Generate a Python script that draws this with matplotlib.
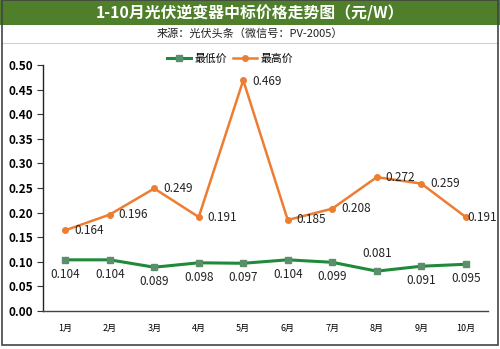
import matplotlib
matplotlib.use("Agg")
import matplotlib.pyplot as plt
from matplotlib.patches import Rectangle
from matplotlib.lines import Line2D

plt.rcParams['font.family'] = ['Noto Sans CJK SC', 'DejaVu Sans']

months = ['1月', '2月', '3月', '4月', '5月', '6月', '7月', '8月', '9月', '10月']
low = [0.104, 0.104, 0.089, 0.098, 0.097, 0.104, 0.099, 0.081, 0.091, 0.095]
high = [0.164, 0.196, 0.249, 0.191, 0.469, 0.185, 0.208, 0.272, 0.259, 0.191]
yticks = [0.00, 0.05, 0.10, 0.15, 0.20, 0.25, 0.30, 0.35, 0.40, 0.45, 0.50]

title = '1-10月光伏逆变器中标价格走势图（元/W）'
subtitle = '来源：光伏头条（微信号：PV-2005）'

GREEN_BAR = '#4f7f2b'
GREEN = '#1f8a3a'
GREEN_MK = '#5b8f6c'
ORANGE = '#ed7d31'

fig = plt.figure(figsize=(5.0, 3.49), dpi=100)
fig.patch.set_facecolor('white')

# title bar
fig.patches.append(Rectangle((0, 1 - 25/349), 1, 25/349, transform=fig.transFigure,
                             facecolor=GREEN_BAR, edgecolor='none', zorder=0))
fig.text(0.5, 1 - 13/349, title, ha='center', va='center', color='white',
         fontsize=11.4, fontweight='bold')
fig.text(0.5, 1 - 34/349, subtitle, ha='center', va='center', color='#222222', fontsize=8)
fig.lines.append(Line2D([0.004, 0.996], [1 - 42.5/349, 1 - 42.5/349], transform=fig.transFigure,
                        color='#d0d0d0', lw=0.8))
# outer border
fig.patches.append(Rectangle((0.003, 4/349), 0.993, 1 - 4/349 - 0.001, transform=fig.transFigure,
                             facecolor='none', edgecolor='#444444', lw=1.2, zorder=5))

ax = fig.add_axes([43/500, 38/349, 445/500, 246/349])
x = list(range(len(months)))
ax.plot(x, low, color=GREEN, lw=2.2, marker='s', markersize=4.5,
        markerfacecolor=GREEN_MK, markeredgecolor=GREEN_MK, label='最低价', zorder=3)
ax.plot(x, high, color=ORANGE, lw=1.8, marker='o', markersize=4,
        markerfacecolor=ORANGE, markeredgecolor=ORANGE, label='最高价', zorder=3)

ax.set_xlim(-0.5, 9.5)
ax.set_ylim(0, 0.5)
ax.set_yticks(yticks)
ax.set_yticklabels([f'{v:.2f}' for v in yticks], fontweight='bold', fontsize=8.5)
ax.set_xticks(x)
ax.set_xticklabels(months, fontsize=6.5)
ax.tick_params(axis='x', length=0, pad=9)
ax.tick_params(axis='y', length=4, width=0.8, color='#333333', pad=3)
for s in ['top', 'right']:
    ax.spines[s].set_visible(False)
ax.spines['left'].set_color('#222222')
ax.spines['bottom'].set_color('#444444')
ax.spines['left'].set_linewidth(1.0)
ax.spines['bottom'].set_linewidth(1.0)

# data labels
for i, v in enumerate(low):
    if i == 7:
        ax.annotate(f'{v:.3f}', (i, v), xytext=(0, 13), textcoords='offset points',
                    ha='center', va='center', fontsize=8.5, color='#222222')
    else:
        ax.annotate(f'{v:.3f}', (i, v), xytext=(0, -10.5), textcoords='offset points',
                    ha='center', va='center', fontsize=8.5, color='#222222')
for i, v in enumerate(high):
    dx = 1 if i == 9 else 6.5
    dy = -1 if i == 4 else 0
    ax.annotate(f'{v:.3f}', (i, v), xytext=(dx, dy), textcoords='offset points',
                ha='left', va='center', fontsize=8.5, color='#222222')

leg = fig.legend(loc='center', bbox_to_anchor=(230/500, 1 - 59/349), ncol=2, frameon=False,
                 fontsize=7.8, handlelength=2.2, columnspacing=0.6, handletextpad=0.3)

fig.savefig('out.png', dpi=100, facecolor='white')
